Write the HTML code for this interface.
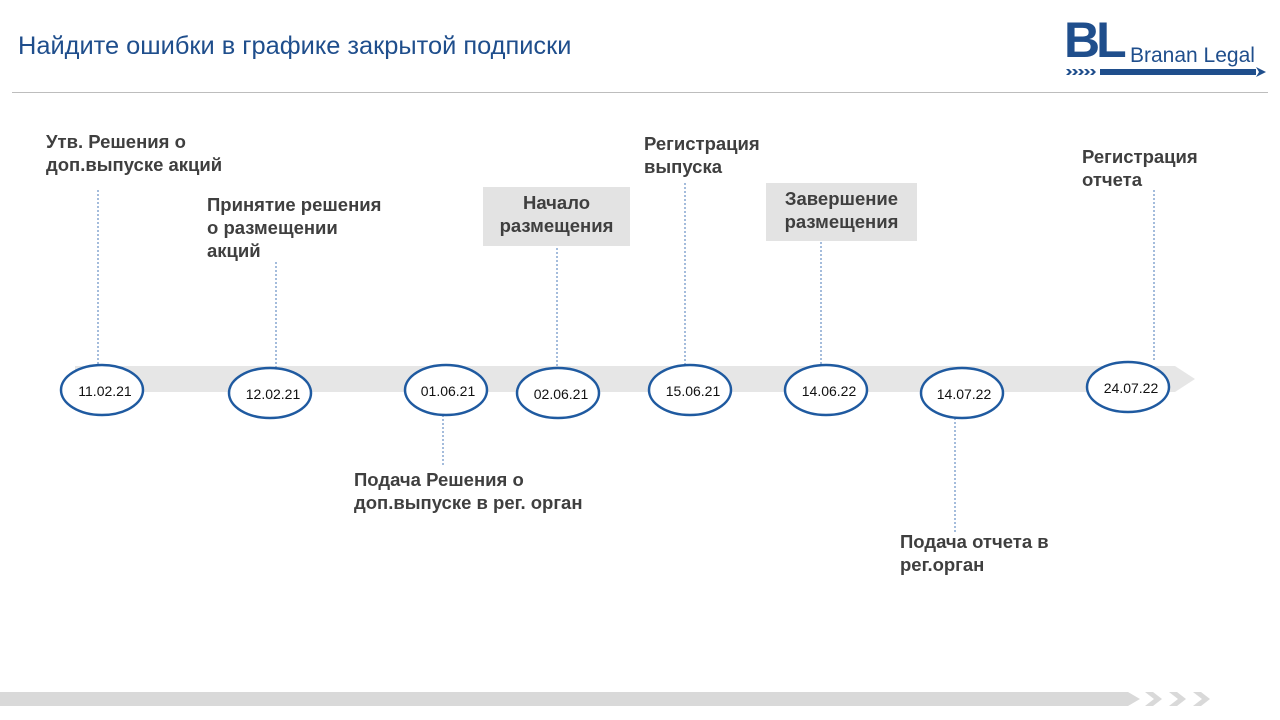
<!DOCTYPE html>
<html><head><meta charset="utf-8"><style>
body{margin:0;width:1280px;height:720px;background:#fff;position:relative;overflow:hidden;font-family:"Liberation Sans","DejaVu Sans",sans-serif}
.t{position:absolute;font-weight:bold;font-size:18.5px;line-height:23px;color:#3f3f3f;white-space:nowrap}
.box{position:absolute;background:#e3e3e3}
.c{text-align:center}
</style></head><body>
<div style="position:absolute;left:18px;top:32px;font-size:25.4px;color:#1f4e8c">Найдите ошибки в графике закрытой подписки</div>
<div style="position:absolute;left:12px;top:92px;width:1256px;height:1px;background:#bdbdbd"></div>
<div style="position:absolute;left:1064px;top:14px;font-size:50px;font-weight:bold;color:#1f4e8c;letter-spacing:-4px;line-height:52px">BL</div>
<div style="position:absolute;left:1130px;top:44px;font-size:21px;color:#1f4e8c">Branan Legal</div>
<svg style="position:absolute;left:0;top:0" width="1280" height="720">
<rect x="1100" y="69" width="156" height="6" fill="#1f4e8c"/>
<g fill="#1f4e8c">
<polygon points="1066,69 1069,69 1072,72 1069,75 1066,75 1069,72"/>
<polygon points="1072,69 1075,69 1078,72 1075,75 1072,75 1075,72"/>
<polygon points="1078,69 1081,69 1084,72 1081,75 1078,75 1081,72"/>
<polygon points="1084,69 1087,69 1090,72 1087,75 1084,75 1087,72"/>
<polygon points="1090,69 1093,69 1096,72 1093,75 1090,75 1093,72"/>
</g>
<polygon points="1256,67 1266,72 1256,77 1259,72" fill="#1f4e8c"/>
<polygon points="75,366 1175,366 1195,379 1175,392 75,392" fill="#e6e6e6"/>
<polygon points="0,692 1128,692 1140,699 1128,706 0,706" fill="#d9d9d9"/>
<g fill="#d9d9d9">
<polygon points="1145,692 1153,692 1162,699 1153,706 1145,706 1154,699"/>
<polygon points="1169,692 1177,692 1186,699 1177,706 1169,706 1178,699"/>
<polygon points="1193,692 1201,692 1210,699 1201,706 1193,706 1202,699"/>
</g>
<g stroke="#4a78b8" stroke-width="1" stroke-dasharray="2,2">
<line x1="98" y1="190" x2="98" y2="365"/>
<line x1="276" y1="262" x2="276" y2="368"/>
<line x1="557" y1="248" x2="557" y2="368"/>
<line x1="685" y1="183" x2="685" y2="365"/>
<line x1="821" y1="242" x2="821" y2="365"/>
<line x1="1154" y1="190" x2="1154" y2="362"/>
<line x1="443" y1="415" x2="443" y2="465"/>
<line x1="955" y1="418" x2="955" y2="533"/>
</g>
<g fill="#fff" stroke="#1f5aa0" stroke-width="2.5">
<ellipse cx="102" cy="390" rx="41" ry="25"/>
<ellipse cx="270" cy="393" rx="41" ry="25"/>
<ellipse cx="446" cy="390" rx="41" ry="25"/>
<ellipse cx="558" cy="393" rx="41" ry="25"/>
<ellipse cx="690" cy="390" rx="41" ry="25"/>
<ellipse cx="826" cy="390" rx="41" ry="25"/>
<ellipse cx="962" cy="393" rx="41" ry="25"/>
<ellipse cx="1128" cy="387" rx="41" ry="25"/>
</g>
<g font-family="Liberation Sans" font-size="14" fill="#111" text-anchor="middle">
<text x="105" y="396">11.02.21</text>
<text x="273" y="399">12.02.21</text>
<text x="448" y="396">01.06.21</text>
<text x="561" y="399">02.06.21</text>
<text x="693" y="396">15.06.21</text>
<text x="829" y="396">14.06.22</text>
<text x="964" y="399">14.07.22</text>
<text x="1131" y="393">24.07.22</text>
</g>
</svg>
<div class="t" style="left:46px;top:130px">Утв. Решения о<br>доп.выпуске акций</div>
<div class="t" style="left:207px;top:193px">Принятие решения<br>о размещении<br>акций</div>
<div class="box" style="left:483px;top:187px;width:147px;height:59px"></div>
<div class="t c" style="left:483px;top:191px;width:147px">Начало<br>размещения</div>
<div class="t" style="left:644px;top:132px">Регистрация<br>выпуска</div>
<div class="box" style="left:766px;top:183px;width:151px;height:58px"></div>
<div class="t c" style="left:766px;top:187px;width:151px">Завершение<br>размещения</div>
<div class="t" style="left:1082px;top:145px">Регистрация<br>отчета</div>
<div class="t" style="left:354px;top:468px">Подача Решения о<br>доп.выпуске в рег. орган</div>
<div class="t" style="left:900px;top:530px">Подача отчета в<br>рег.орган</div>
</body></html>
